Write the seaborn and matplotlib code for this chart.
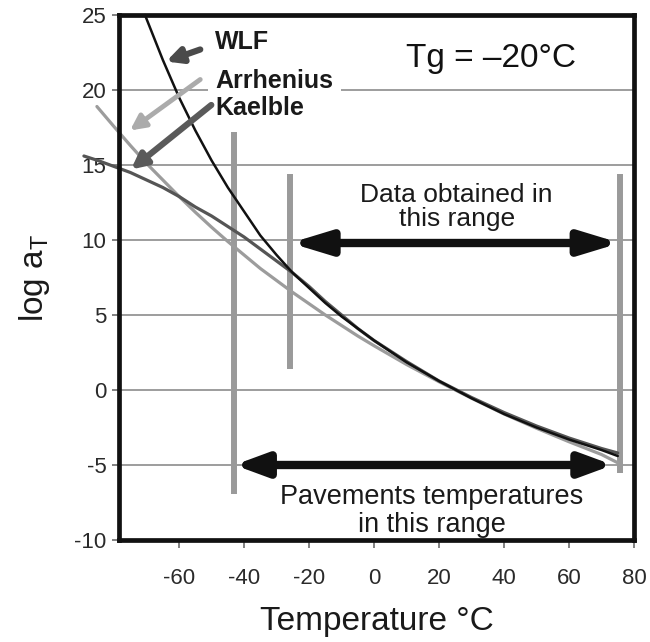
import matplotlib
matplotlib.use("Agg")
import matplotlib.pyplot as plt
import seaborn as sns
import pandas as pd

# Shift factor curves (log a_T versus temperature, °C)
wlf_T = [-70.5, -65, -60, -55, -50, -45, -40, -35, -30, -25, -20, -15, -10, -5,
         0, 10, 20, 30, 40, 50, 60, 70, 75]
wlf_log = [25.0, 22.0, 19.5, 17.3, 15.3, 13.5, 11.9, 10.3, 9.0, 7.8, 6.8, 5.8, 4.9, 4.1,
           3.3, 1.85, 0.6, -0.55, -1.6, -2.5, -3.3, -4.0, -4.4]

arr_T = [-85.3, -80, -75, -70, -65, -60, -55, -50, -45, -40, -35, -30, -25, -20,
         -15, -10, -5, 0, 10, 20, 30, 40, 50, 60, 70, 75]
arr_log = [18.9, 17.55, 16.3, 15.1, 14.0, 12.9, 11.85, 10.85, 9.9, 9.0, 8.1, 7.3, 6.5, 5.75,
           5.0, 4.3, 3.6, 2.95, 1.7, 0.55, -0.55, -1.6, -2.55, -3.45, -4.3, -4.85]

kae_T = [-89.3, -85, -80, -75, -70, -65, -60, -55, -50, -45, -40, -35, -30, -25, -20,
         -15, -10, -5, 0, 10, 20, 30, 40, 50, 60, 70, 75]
kae_log = [15.6, 15.3, 14.9, 14.5, 14.0, 13.5, 12.9, 12.2, 11.6, 10.9, 10.2, 9.4, 8.6, 7.8, 6.9,
           5.9, 5.0, 4.1, 3.3, 1.9, 0.6, -0.5, -1.5, -2.4, -3.2, -3.9, -4.2]

# Temperature ranges (vertical bars) and their extents
bar_T = [-43, -25.8, 75.7]
bar_low = [-6.9, 1.4, -5.5]
bar_high = [17.2, 14.4, 14.4]

data_range = [-25.8, 75.7]
data_level = 9.8
pave_range = [-43, 73.5]
pave_level = -5.0

x_ticks = [-60, -40, -20, 0, 20, 40, 60, 80]
y_ticks = [-10, -5, 0, 5, 10, 15, 20, 25]

sns.set_style("white")
plt.rcParams["font.family"] = ["Liberation Sans", "DejaVu Sans"]
plt.rcParams["mathtext.default"] = "regular"
plt.rcParams["axes.unicode_minus"] = False

fig = plt.figure(figsize=(6.5, 6.42), dpi=100)
ax = fig.add_axes([119 / 650, 1 - 540 / 642, (634 - 119) / 650, (540 - 15) / 642])

ax.set_xlim(-78.5, 80)
ax.set_ylim(-10, 25)
ax.set_xticks(x_ticks)
ax.set_yticks(y_ticks)
ax.yaxis.grid(True, color="#8c8c8c", lw=1.2, zorder=0)
ax.xaxis.grid(False)
ax.set_axisbelow(True)

for s in ax.spines.values():
    s.set_color("#111111")
    s.set_linewidth(3.4)
    s.set_zorder(10)

ax.tick_params(axis="x", direction="out", length=6, width=1.3, color="#777777",
               pad=14, labelsize=16, labelcolor="#2a2a2a", bottom=True)
ax.tick_params(axis="y", direction="out", length=5, width=1.3, color="#777777",
               pad=4, labelsize=16, labelcolor="#2a2a2a", left=True)

# range bars
ax.vlines(bar_T, bar_low, bar_high, colors="#9a9a9a", lw=4.3, zorder=2)

# curves
df_w = pd.DataFrame({"T": wlf_T, "log": wlf_log})
df_a = pd.DataFrame({"T": arr_T, "log": arr_log})
df_k = pd.DataFrame({"T": kae_T, "log": kae_log})
sns.lineplot(data=df_a, x="T", y="log", color="#9c9c9c", lw=2.3, sort=False,
             estimator=None, ax=ax, clip_on=False, zorder=3)
sns.lineplot(data=df_k, x="T", y="log", color="#555555", lw=2.3, sort=False,
             estimator=None, ax=ax, clip_on=False, zorder=3)
sns.lineplot(data=df_w, x="T", y="log", color="#111111", lw=1.8, sort=False,
             estimator=None, ax=ax, clip_on=False, zorder=4)

# double-headed range arrows
ax.annotate("", xy=(data_range[1], data_level), xytext=(data_range[0], data_level),
            arrowprops=dict(arrowstyle="<|-|>,head_length=2.3,head_width=0.7",
                            lw=6, color="#111111", shrinkA=0, shrinkB=0,
                            mutation_scale=10), zorder=5)
ax.annotate("", xy=(pave_range[1], pave_level), xytext=(pave_range[0], pave_level),
            arrowprops=dict(arrowstyle="<|-|>,head_length=1.9,head_width=0.7",
                            lw=6, color="#111111", shrinkA=0, shrinkB=0,
                            mutation_scale=10), zorder=5)

# model labels with pointers
ax.text(-48.9, 23.2, "WLF", fontsize=18, fontweight="bold", color="#1a1a1a",
        ha="left", va="center", zorder=6)
ax.text(-48.9, 20.6, "Arrhenius", fontsize=18, fontweight="bold", color="#1a1a1a",
        ha="left", va="center", zorder=6,
        bbox=dict(boxstyle="square,pad=0.3", fc="white", ec="none"))
ax.text(-48.9, 18.8, "Kaelble", fontsize=18, fontweight="bold", color="#1a1a1a",
        ha="left", va="center", zorder=6)

ptr = dict(shrinkA=0, shrinkB=0, mutation_scale=10)
ax.annotate("", xy=(-64, 21.9), xytext=(-53.5, 22.7),
            arrowprops=dict(arrowstyle="-|>,head_length=0.9,head_width=0.45",
                            lw=4.5, color="#4a4a4a", **ptr), zorder=7)
ax.annotate("", xy=(-75.1, 17.3), xytext=(-53.5, 20.7),
            arrowprops=dict(arrowstyle="-|>,head_length=0.9,head_width=0.45",
                            lw=3.5, color="#ababab", **ptr), zorder=7)
ax.annotate("", xy=(-74.8, 14.7), xytext=(-50.1, 19.0),
            arrowprops=dict(arrowstyle="-|>,head_length=0.9,head_width=0.45",
                            lw=4.5, color="#5a5a5a", **ptr), zorder=7)

ax.text(36, 22.1, "Tg = \u201320\u00b0C", fontsize=24, color="#111111",
        ha="center", va="center", zorder=6)
ax.text(25.4, 12.2, "Data obtained in\nthis range", fontsize=19, color="#1a1a1a",
        ha="center", va="center", linespacing=1.0, zorder=6)
ax.text(17.7, -8.1, "Pavements temperatures\nin this range", fontsize=19.5,
        color="#1a1a1a", ha="center", va="center", linespacing=1.1, zorder=6)

ax.set_xlabel("Temperature \u00b0C", fontsize=24, color="#1a1a1a")
ax.set_ylabel("log a$_{T}$", fontsize=24, color="#1a1a1a")
ax.xaxis.set_label_coords(0.5, -0.125)
ax.yaxis.set_label_coords(-0.13, 0.5)

fig.savefig("out.png", dpi=100)
